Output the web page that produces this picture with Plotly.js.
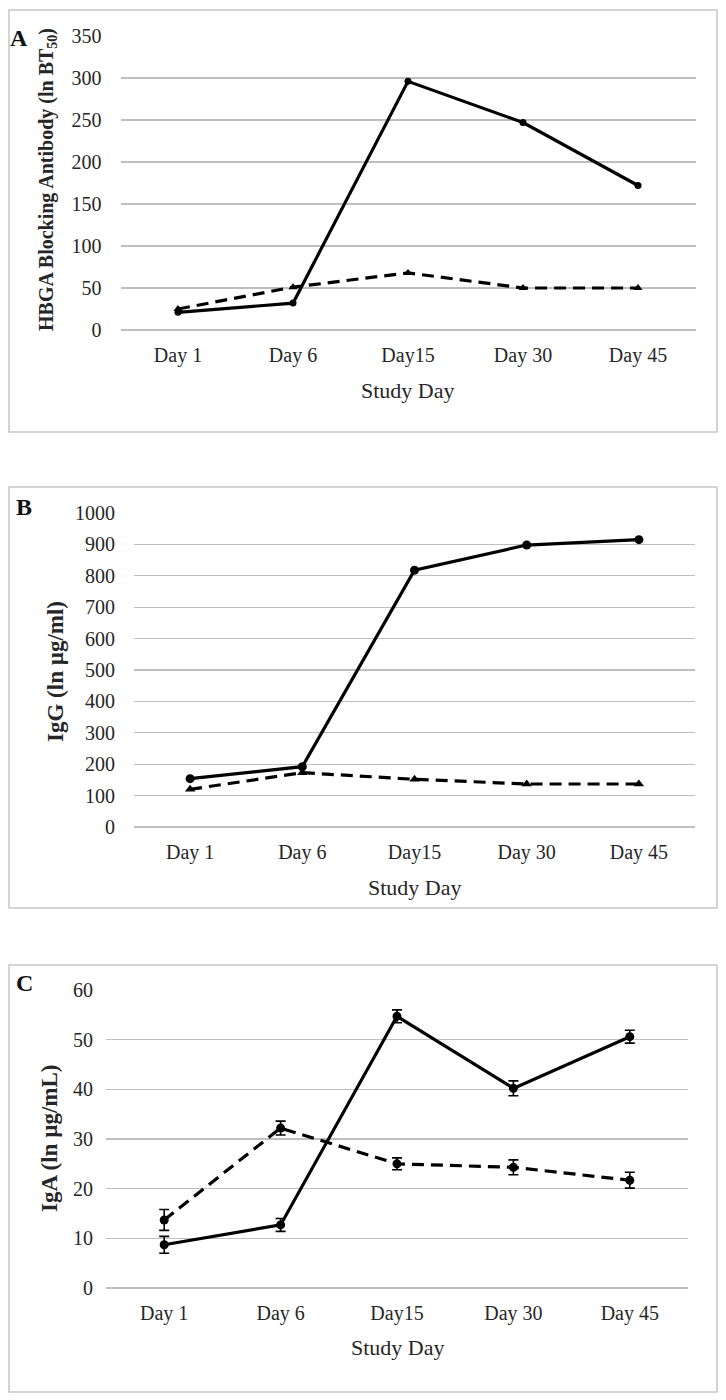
<!DOCTYPE html>
<html>
<head>
<meta charset="utf-8">
<script src="https://cdn.plot.ly/plotly-3.0.1.min.js"></script>
<style>html,body{margin:0;padding:0;background:#fff;}#chart{width:726px;height:1400px;}</style>
</head>
<body>
<div id="chart"></div>
<script>
// ---- data ----
const days = ['Day 1', 'Day 6', 'Day15', 'Day 30', 'Day 45'];

const hbgaSolid  = [21, 32, 296, 247, 172];
const hbgaDashed = [25, 51, 68, 50, 50];

const iggSolid  = [154, 192, 818, 898, 915];
const iggDashed = [120, 173, 152, 137, 137];

const igaSolid     = [8.7, 12.7, 54.7, 40.2, 50.6];
const igaSolidErr  = [1.7, 1.3, 1.3, 1.5, 1.3];
const igaDashed    = [13.7, 32.2, 25.0, 24.3, 21.7];
const igaDashedErr = [2.1, 1.4, 1.2, 1.5, 1.6];

const yTicksA = [0, 50, 100, 150, 200, 250, 300, 350];
const yTicksB = [0, 100, 200, 300, 400, 500, 600, 700, 800, 900, 1000];
const yTicksC = [0, 10, 20, 30, 40, 50, 60];

const panelLabels = ['A', 'B', 'C'];
const yTitles = ['HBGA Blocking Antibody (ln BT<sub>50</sub>)', 'IgG (ln µg/ml)', 'IgA (ln µg/mL)'];
const xTitle = 'Study Day';

// ---- layout helpers ----
const W = 726, H = 1400;
const px = v => v / W;
const py = v => 1 - v / H;
const txt = '#262626';
const grid = '#bfbfbf';
const dashPat = '12px,7px';

function lineTrace(y, xa, ya, dashed, marker, err) {
  const t = {
    type: 'scatter', mode: 'lines+markers', x: days, y: y,
    xaxis: xa, yaxis: ya, cliponaxis: false,
    line: {color: '#000', width: 3.2, dash: dashed ? dashPat : 'solid'},
    marker: marker,
    hoverinfo: 'x+y'
  };
  if (err) t.error_y = {type: 'data', array: err, visible: true, color: '#000', thickness: 1.6, width: 5};
  return t;
}

const data = [
  lineTrace(hbgaDashed, 'x', 'y', true, {symbol: 'triangle-up', size: 8, color: '#000'}),
  lineTrace(hbgaSolid, 'x', 'y', false, {symbol: 'circle', size: 7, color: '#000'}),
  lineTrace(iggDashed, 'x2', 'y2', true, {symbol: 'triangle-up', size: 9, color: '#000'}),
  lineTrace(iggSolid, 'x2', 'y2', false, {symbol: 'circle', size: 9, color: '#000'}),
  lineTrace(igaDashed, 'x3', 'y3', true, {symbol: 'circle', size: 9, color: '#000'}, igaDashedErr),
  lineTrace(igaSolid, 'x3', 'y3', false, {symbol: 'circle', size: 9, color: '#000'}, igaSolidErr)
];

function xax(d0, d1, anchor) {
  return {
    domain: [px(d0), px(d1)], anchor: anchor, type: 'category',
    range: [-0.5, days.length - 0.5], showgrid: false, zeroline: false, showline: false,
    ticks: '', ticklabelstandoff: 11,
    tickfont: {family: 'Liberation Serif', size: 20, color: txt}, fixedrange: true
  };
}
function yax(top, bottom, range, ticks, anchor, standoff) {
  return {
    domain: [py(bottom), py(top)], anchor: anchor, range: range,
    tickvals: ticks, ticktext: ticks.map(String),
    showgrid: true, gridcolor: grid, gridwidth: 1.3,
    zeroline: true, zerolinecolor: grid, zerolinewidth: 1.3, showline: false,
    ticks: '', ticklabelstandoff: standoff,
    tickfont: {family: 'Liberation Serif', size: 20, color: txt}, fixedrange: true
  };
}

const boxes = [[10, 432], [487, 908], [965, 1392]];
const shapes = boxes.map(b => ({
  type: 'rect', xref: 'paper', yref: 'paper',
  x0: px(9), x1: px(717), y0: py(b[1]), y1: py(b[0]),
  line: {color: '#c6c6c6', width: 1.5}, fillcolor: 'rgba(0,0,0,0)', layer: 'below'
}));

const labelPos = [[19, 38], [24, 507], [24, 983]];
const yTitlePos = [[48, 180], [55, 672], [49, 1139]];
const yTitleSize = [20, 23, 23];
const xTitlePos = [[408, 390], [415, 887], [398, 1347]];

const annotations = [];
for (let i = 0; i < 3; i++) {
  annotations.push({
    xref: 'paper', yref: 'paper', x: px(labelPos[i][0]), y: py(labelPos[i][1]),
    text: '<b>' + panelLabels[i] + '</b>', showarrow: false, xanchor: 'center', yanchor: 'middle',
    font: {family: 'Liberation Serif', size: 24, color: '#111'}
  });
  annotations.push({
    xref: 'paper', yref: 'paper', x: px(yTitlePos[i][0]), y: py(yTitlePos[i][1]),
    text: '<b>' + yTitles[i] + '</b>', textangle: -90, showarrow: false,
    xanchor: 'center', yanchor: 'middle',
    font: {family: 'Liberation Serif', size: yTitleSize[i], color: txt}
  });
  annotations.push({
    xref: 'paper', yref: 'paper', x: px(xTitlePos[i][0]), y: py(xTitlePos[i][1]),
    text: xTitle, showarrow: false, xanchor: 'center', yanchor: 'middle',
    font: {family: 'Liberation Serif', size: 22, color: txt}
  });
}

const layout = {
  width: W, height: H,
  margin: {l: 0, r: 0, t: 0, b: 0},
  paper_bgcolor: '#fff', plot_bgcolor: '#fff',
  showlegend: false,
  font: {family: 'Liberation Serif', color: txt},
  xaxis:  xax(120.5, 695.5, 'y'),
  yaxis:  yax(36, 330, [0, 350], yTicksA, 'x', 18),
  xaxis2: xax(134, 695, 'y2'),
  yaxis2: yax(513, 827, [0, 1000], yTicksB, 'x2', 18),
  xaxis3: xax(106, 688, 'y3'),
  yaxis3: yax(990, 1288, [0, 60], yTicksC, 'x3', 12),
  shapes: shapes,
  annotations: annotations
};

Plotly.newPlot('chart', data, layout, {displayModeBar: false, staticPlot: true});
</script>
</body>
</html>
